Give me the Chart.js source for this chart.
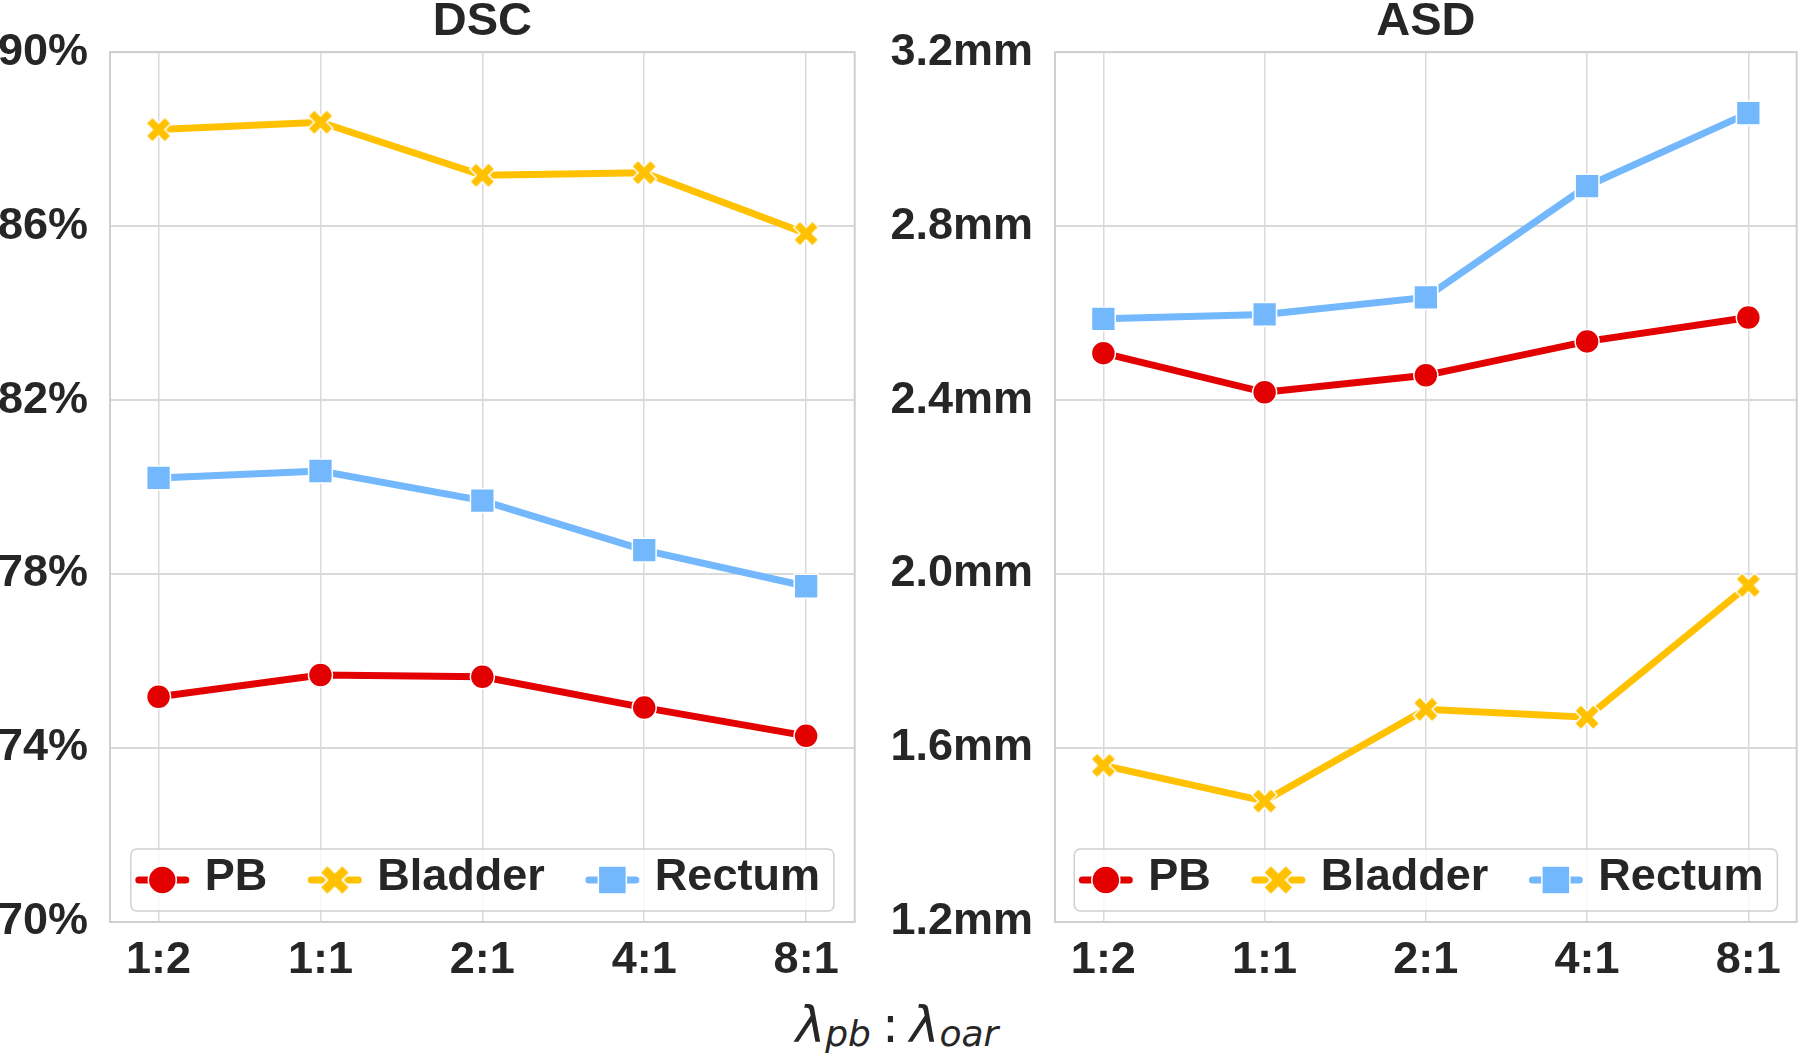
<!DOCTYPE html>
<html>
<head>
<meta charset="utf-8">
<script src="https://cdn.jsdelivr.net/npm/chart.js@4/dist/chart.umd.min.js"></script>
<style>
html,body{margin:0;padding:0;background:#fff;}
body{width:1800px;height:1058px;position:relative;overflow:hidden;}
canvas{position:absolute;top:0;}
#xl{position:absolute;left:0;width:1794px;top:1000px;text-align:center;font-family:'DejaVu Sans',sans-serif;font-size:50px;line-height:50px;color:#262626;white-space:nowrap;}
#xl .sub{position:relative;top:0.1em;font-size:0.72em;font-style:italic;}
#xl i{font-style:italic;}
#xl .colon{margin:0 11px 0 11px;}
</style>
</head>
<body>
<div id="xl"><i>λ</i><span class="sub">pb</span><span class="colon">:</span><i>λ</i><span class="sub">oar</span></div>
<script>
// ---- data ----
const categories = ['1:2', '1:1', '2:1', '4:1', '8:1'];
const seriesNames = ['PB', 'Bladder', 'Rectum'];
const dscPB      = [75.18, 75.68, 75.64, 74.93, 74.28];
const dscBladder = [88.22, 88.39, 87.17, 87.23, 85.83];
const dscRectum  = [80.21, 80.37, 79.69, 78.55, 77.72];
const asdPB      = [2.508, 2.418, 2.457, 2.535, 2.590];
const asdBladder = [1.560, 1.478, 1.689, 1.671, 1.974];
const asdRectum  = [2.587, 2.597, 2.636, 2.892, 3.060];
const dscTicks = [70, 74, 78, 82, 86, 90];
const asdTicks = [1.2, 1.6, 2.0, 2.4, 2.8, 3.2];
const titles = ['DSC', 'ASD'];

// ---- styles ----
const FONT = "'Liberation Sans', Arial, Helvetica, sans-serif";
const TEXT = '#262626';
const RED = '#E30000', YEL = '#FFC100', BLU = '#73B8FC';
const GRID = '#dadada';

function makeX(scale) {
  const s = 32 * scale;
  const c = document.createElement('canvas');
  c.width = Math.ceil(s); c.height = Math.ceil(s);
  c.style.position = 'static';
  const g = c.getContext('2d');
  const t = 4.4 * scale, L = 13.2 * scale;
  const pts = [[-t,-L],[t,-L],[t,-t],[L,-t],[L,t],[t,t],[t,L],[-t,L],[-t,t],[-L,t],[-L,-t],[-t,-t]];
  g.translate(c.width / 2, c.height / 2);
  g.rotate(Math.PI / 4);
  g.beginPath();
  pts.forEach((p, i) => i ? g.lineTo(p[0], p[1]) : g.moveTo(p[0], p[1]));
  g.closePath();
  g.fillStyle = YEL; g.fill();
  g.strokeStyle = '#ffffff'; g.lineWidth = 1.5 * scale; g.stroke();
  return c;
}
const xMarker = makeX(1);
const xMarkerBig = makeX(1.2);

function ds(label, values, color, marker) {
  const base = {
    label: label,
    data: values.map((v, i) => ({x: i, y: v})),
    borderColor: color,
    backgroundColor: color,
    borderWidth: 7,
    tension: 0,
    pointBorderColor: '#ffffff',
    pointBorderWidth: 1.5,
    pointBackgroundColor: color,
    marker: marker
  };
  if (marker === 'circle') { base.pointStyle = 'circle'; base.pointRadius = 12; }
  else if (marker === 'square') { base.pointStyle = 'rect'; base.pointRadius = 16.8; }
  else { base.pointStyle = xMarker; base.pointRadius = 12; }
  return base;
}

const borderPlugin = {
  id: 'borderBox',
  beforeDatasetsDraw(chart) {
    const a = chart.chartArea, ctx = chart.ctx;
    ctx.save();
    ctx.strokeStyle = '#cfcfcf';
    ctx.lineWidth = 2;
    ctx.strokeRect(a.left, a.top, a.right - a.left, a.bottom - a.top);
    ctx.restore();
  }
};

const legendPlugin = {
  id: 'insideLegend',
  afterDraw(chart) {
    const a = chart.chartArea, ctx = chart.ctx;
    const sets = chart.data.datasets;
    ctx.save();
    ctx.font = 'bold 45px ' + FONT;
    const widths = sets.map(d => ctx.measureText(d.label).width);
    const padL = 5, padR = 14, lineLen = 53, gapText = 16, gapItem = 41, h = 62;
    const total = padL + padR + sets.length * (lineLen + gapText) + widths.reduce((s, w) => s + w, 0) + gapItem * (sets.length - 1);
    const x0 = (a.left + a.right) / 2 - total / 2;
    const y0 = a.bottom - 11 - h;
    ctx.beginPath();
    if (ctx.roundRect) ctx.roundRect(x0, y0, total, h, 6); else ctx.rect(x0, y0, total, h);
    ctx.fillStyle = 'rgba(255,255,255,0.8)';
    ctx.fill();
    ctx.strokeStyle = '#d0d0d0';
    ctx.lineWidth = 1.5;
    ctx.stroke();
    const cy = y0 + h / 2;
    let x = x0 + padL;
    sets.forEach((d, i) => {
      ctx.beginPath();
      ctx.moveTo(x + 3, cy); ctx.lineTo(x + lineLen - 3, cy);
      ctx.strokeStyle = d.borderColor; ctx.lineWidth = 7; ctx.lineCap = 'round';
      ctx.stroke();
      const mx = x + lineLen / 2;
      if (d.marker === 'circle') {
        ctx.beginPath(); ctx.arc(mx, cy, 14, 0, Math.PI * 2);
        ctx.fillStyle = d.borderColor; ctx.fill();
        ctx.strokeStyle = '#fff'; ctx.lineWidth = 1.5; ctx.stroke();
      } else if (d.marker === 'square') {
        ctx.beginPath(); ctx.rect(mx - 14, cy - 14, 28, 28);
        ctx.fillStyle = d.borderColor; ctx.fill();
        ctx.strokeStyle = '#fff'; ctx.lineWidth = 1.5; ctx.stroke();
      } else {
        ctx.drawImage(xMarkerBig, mx - xMarkerBig.width / 2, cy - xMarkerBig.height / 2);
      }
      ctx.fillStyle = TEXT;
      ctx.textBaseline = 'middle';
      ctx.textAlign = 'left';
      ctx.fillText(d.label, x + lineLen + gapText, cy - 2);
      x += lineLen + gapText + widths[i] + gapItem;
    });
    ctx.restore();
  }
};

function makeCanvas(left, width) {
  const c = document.createElement('canvas');
  c.width = width; c.height = 1000;
  c.style.left = left + 'px';
  c.style.width = width + 'px';
  c.style.height = '1000px';
  document.body.appendChild(c);
  return c;
}

function makeChart(canvas, title, pb, bl, re, yTicks, fmt, yWidth) {
  const tickFont = {family: FONT, size: 45, weight: 'bold'};
  return new Chart(canvas, {
    type: 'line',
    data: {
      datasets: [
        ds(seriesNames[0], pb, RED, 'circle'),
        ds(seriesNames[1], bl, YEL, 'x'),
        ds(seriesNames[2], re, BLU, 'square')
      ]
    },
    options: {
      responsive: false,
      maintainAspectRatio: false,
      animation: false,
      devicePixelRatio: 1,
      layout: {padding: {top: 0, right: 2, bottom: 0, left: 0}},
      plugins: {
        legend: {display: false},
        tooltip: {enabled: false},
        title: {
          display: true, text: title, color: TEXT, fullSize: false,
          font: {family: FONT, size: 47, weight: 'bold', lineHeight: 0.94},
          padding: {top: 0, bottom: 8}
        }
      },
      scales: {
        x: {
          type: 'linear', min: -0.3, max: 4.3,
          afterBuildTicks: (axis) => { axis.ticks = categories.map((c, i) => ({value: i})); },
          afterFit: (s) => { s.height = 78; s.paddingLeft = 0; s.paddingRight = 0; },
          ticks: {
            callback: (v) => categories[Math.round(v)],
            font: tickFont, color: TEXT, padding: 12, autoSkip: false, maxRotation: 0
          },
          grid: {color: GRID, lineWidth: 1.5, drawTicks: false},
          border: {display: false}
        },
        y: {
          min: yTicks[0], max: yTicks[yTicks.length - 1],
          afterBuildTicks: (axis) => { axis.ticks = yTicks.map(v => ({value: v})); },
          afterFit: (s) => { s.width = yWidth; },
          ticks: {callback: fmt, font: tickFont, color: TEXT, padding: 22},
          grid: {color: GRID, lineWidth: 2, drawTicks: false},
          border: {display: false}
        }
      }
    },
    plugins: [borderPlugin, legendPlugin]
  });
}

// build a panel so that its plot area spans [plotLeft, plotRight] on the page
function panel(canvasLeft, plotLeft, plotRight, title, pb, bl, re, yTicks, fmt) {
  const yWidth = plotLeft - canvasLeft;
  let width = plotRight - canvasLeft + 2;
  let cv = makeCanvas(canvasLeft, width);
  let chart = makeChart(cv, title, pb, bl, re, yTicks, fmt, yWidth);
  for (let k = 0; k < 3; k++) {
    const d = plotRight - (canvasLeft + chart.chartArea.right);
    if (Math.abs(d) < 0.5) break;
    chart.destroy();
    cv.remove();
    width = Math.round(width + d);
    cv = makeCanvas(canvasLeft, width);
    chart = makeChart(cv, title, pb, bl, re, yTicks, fmt, yWidth);
  }
  return chart;
}

panel(0, 110, 855, titles[0], dscPB, dscBladder, dscRectum, dscTicks, (v) => Math.round(v) + '%');
panel(880, 1055, 1797, titles[1], asdPB, asdBladder, asdRectum, asdTicks, (v) => Number(v).toFixed(1) + 'mm');
</script>
</body>
</html>
